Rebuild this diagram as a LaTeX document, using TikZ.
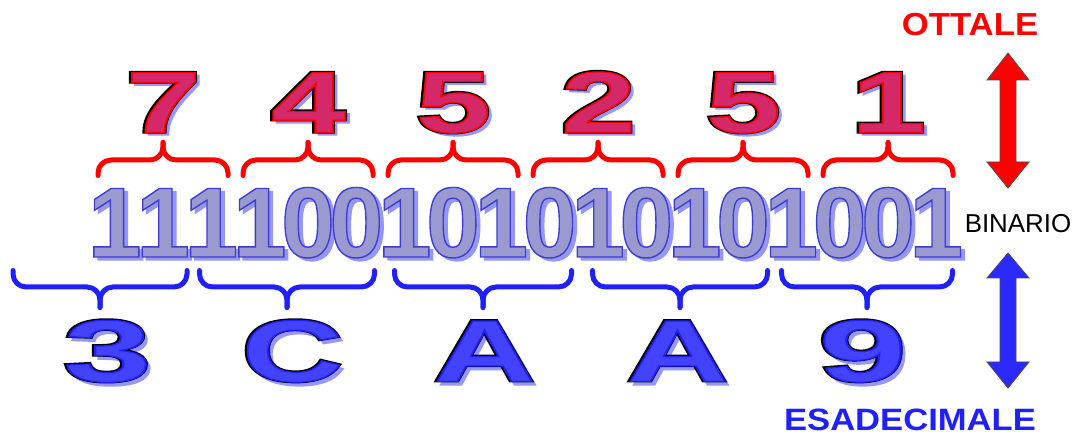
\documentclass[tikz,border=0pt]{standalone}
\usepackage{fontspec}
\setmainfont{Liberation Sans}
\usepackage{graphicx}
\definecolor{octfill}{RGB}{212,40,104}
\definecolor{octrim}{RGB}{255,0,0}
\definecolor{octshadow}{RGB}{150,150,255}
\definecolor{binfill}{RGB}{154,154,208}
\definecolor{binshadow}{RGB}{150,150,245}
\definecolor{hexfill}{RGB}{66,66,255}
\definecolor{hexshadow}{RGB}{150,150,255}
\definecolor{bracered}{RGB}{255,0,0}
\definecolor{braceblue}{RGB}{32,32,255}
\definecolor{labelblue}{RGB}{32,32,255}
\definecolor{arrowred}{RGB}{255,0,0}
\definecolor{arrowblue}{RGB}{42,42,255}
% #1 xscale, #2 fill colour, #3 stroke rgb, #4 stroke width, #5 text
\newcommand\stxt[5]{\scalebox{#1}[1]{\textcolor{#2}{\special{pdf:literal direct #3 RG #4 w 2 Tr}#5\special{pdf:literal direct 0 Tr}}}}
\tikzset{
  bindig/.style={anchor=base, inner sep=0pt, font=\fontsize{100}{100}\selectfont\bfseries},
  octdig/.style={anchor=base, inner sep=0pt, font=\fontsize{87}{87}\selectfont\bfseries},
  hexdig/.style={anchor=base, inner sep=0pt, font=\fontsize{88}{88}\selectfont\bfseries},
  redbrace/.style={draw=bracered, line width=5bp, rounded corners=13bp, line cap=round},
  bluebrace/.style={draw=braceblue, line width=5bp, rounded corners=13bp, line cap=round},
  bigarrow/.style={draw=black!70, line width=0.8bp, line join=miter},
  label/.style={anchor=base, inner sep=0pt},
}
\begin{document}
\begin{tikzpicture}[x=1bp, y=-1bp]
\useasboundingbox (0,0) rectangle (1074,436);
\fill[white] (0,0) rectangle (1074,436);

% binary digits
\foreach \d [count=\i from 0] in {1,1,1,1,0,0,1,0,1,0,1,0,1,0,1,0,0,1} {
  \node[bindig] (binS\i) at ({114.7+48.33*\i+4}, 260) {\stxt{0.97}{binshadow}{0.59 0.59 0.96}{1.2}{\d}};
}
\foreach \d [count=\i from 0] in {1,1,1,1,0,0,1,0,1,0,1,0,1,0,1,0,0,1} {
  \node[bindig] (bin\i) at ({114.7+48.33*\i}, 257) {\stxt{0.97}{binfill}{0.24 0.24 0.82}{1.4}{\d}};
}

% octal digits
\foreach \d [count=\i from 0] in {7,4,5,2,5,1} {
  \node[octdig] (octS\i) at ({163+145*\i+4}, 135) {\stxt{1.55}{octshadow}{0.59 0.59 1}{1.5}{\d}};
  \node[octdig] (octR\i) at ({163+145*\i}, 132) {\stxt{1.55}{octrim}{0 0 0}{3.2}{\d}};
  \node[octdig] (oct\i) at ({163+145*\i+0.6}, 132.4) {\stxt{1.55}{octfill}{1 0 0}{1.2}{\d}};
}

% red braces
\foreach \c in {163,308,453,598,743,888} {
  \draw[redbrace] ({\c-65},175.5) -- ({\c-65},160) -- (\c,160) -- (\c,142.5);
  \draw[redbrace] ({\c+65},175.5) -- ({\c+65},160) -- (\c,160) -- (\c,142.5);
}

% blue braces
\foreach \c/\w in {100/87, 287/87.5, 483/88.5, 680/87.5, 867/85.5} {
  \draw[bluebrace] ({\c-\w},270.5) -- ({\c-\w},287) -- (\c,287) -- (\c,307.5);
  \draw[bluebrace] ({\c+\w},270.5) -- ({\c+\w},287) -- (\c,287) -- (\c,307.5);
}

% hex digits
\foreach \c/\l/\s [count=\i from 0] in {107/3/1.8, 292/C/1.6, 484/A/1.6, 677/A/1.6, 862/9/1.8} {
  \node[hexdig] (hexS\i) at ({\c+4}, 385) {\stxt{\s}{hexshadow}{0.59 0.59 1}{1.5}{\l}};
  \node[hexdig] (hexR\i) at (\c, 381) {\stxt{\s}{hexfill}{0 0 0}{3}{\l}};
  \node[hexdig] (hex\i) at ({\c+0.6}, 381.4) {\stxt{\s}{hexfill}{0.12 0.12 1}{1.2}{\l}};
}

% double arrows
\filldraw[bigarrow, fill=arrowred]
  (1008,53) -- (1029,80) -- (1016,80) -- (1016,162) -- (1029,162) -- (1008,188)
  -- (987,162) -- (1000,162) -- (1000,80) -- (987,80) -- cycle;
\filldraw[bigarrow, fill=arrowblue]
  (1008,253) -- (1029,278) -- (1016,278) -- (1016,362) -- (1029,362) -- (1008,388)
  -- (987,362) -- (1000,362) -- (1000,278) -- (987,278) -- cycle;

% labels
\node[label, font=\fontsize{32}{32}\selectfont\bfseries, text=red] (ottale) at (970,36) {\scalebox{1.09}[1]{OTTALE}};
\node[label, font=\fontsize{31}{31}\selectfont\bfseries, text=labelblue] (esa) at (910,430.5) {\scalebox{1.12}[1]{ESADECIMALE}};
\node[label, font=\fontsize{26}{26}\selectfont, text=black] (binario) at (1018,233) {BINARIO};
\end{tikzpicture}
\end{document}
